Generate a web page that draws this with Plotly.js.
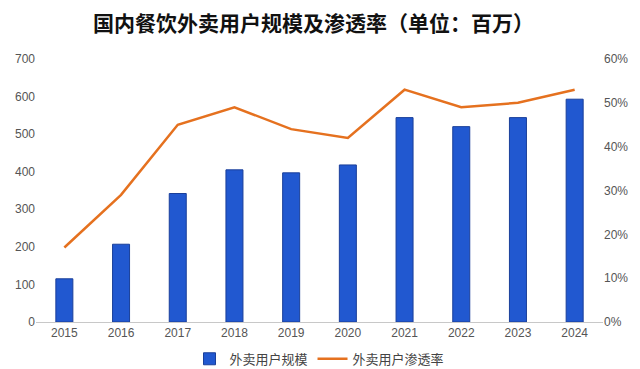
<!DOCTYPE html>
<html>
<head>
<meta charset="utf-8">
<script src="https://cdn.plot.ly/plotly-3.0.1.min.js"></script>
<style>html,body{margin:0;padding:0;background:#fff;}#chart{width:640px;height:369px;}</style>
</head>
<body>
<div id="chart"></div>
<script>
const years = ['2015','2016','2017','2018','2019','2020','2021','2022','2023','2024'];
const users = [115, 207, 342, 405, 397, 418, 544, 520, 544, 593];
const penetration = [0.17, 0.29, 0.45, 0.49, 0.44, 0.42, 0.53, 0.49, 0.50, 0.53];
const seriesNames = ['外卖用户规模', '外卖用户渗透率'];
const titleText = '国内餐饮外卖用户规模及渗透率（单位：百万）';

const font = 'Liberation Sans, Noto Sans CJK SC, sans-serif';
const traces = [
  {type:'bar', x:years, y:users, name:seriesNames[0], width:0.3,
   marker:{color:'#2158d0', line:{color:'#1a3f9a', width:1}}},
  {type:'scatter', mode:'lines', x:years, y:penetration, name:seriesNames[1], yaxis:'y2',
   line:{color:'#e5711f', width:2.5}}
];
const layout = {
  width:640, height:369,
  margin:{l:36, r:37, t:59, b:47, autoexpand:false},
  paper_bgcolor:'#fff', plot_bgcolor:'#fff',
  font:{family:font, size:12, color:'#555'},
  title:{text:titleText, x:0.49, xanchor:'center', y:0.937, yanchor:'middle',
         font:{family:'Noto Sans CJK SC, sans-serif', size:21, color:'#111', weight:'bold'}},
  showlegend:true,
  legend:{orientation:'h', x:0.5, xanchor:'center', y:-0.14, yanchor:'middle',
          font:{family:'Noto Sans CJK SC, sans-serif', size:13, color:'#444'}},
  bargap:0.7,
  xaxis:{type:'category', showgrid:false, showline:true, linecolor:'#c8c8c8', linewidth:1,
         ticks:'', tickfont:{size:12, color:'#555'}, zeroline:false},
  yaxis:{range:[0,700], dtick:100, showgrid:false, zeroline:false, showline:false,
         ticks:'', tickfont:{size:12, color:'#555'}},
  yaxis2:{overlaying:'y', side:'right', range:[0,0.6], dtick:0.1, tickformat:'.0%',
          showgrid:false, zeroline:false, showline:false, ticks:'',
          tickfont:{size:12, color:'#555'}}
};
Plotly.newPlot('chart', traces, layout, {displayModeBar:false, staticPlot:true});
</script>
</body>
</html>
